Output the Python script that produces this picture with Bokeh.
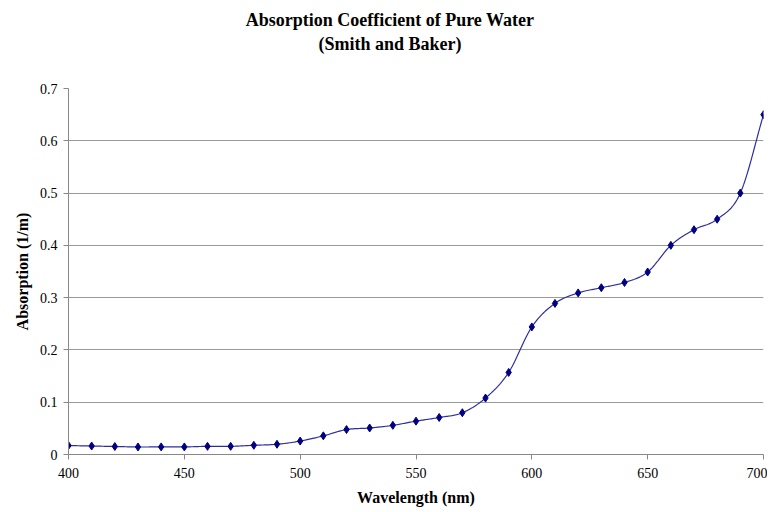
import numpy as np
from bokeh.plotting import figure
from bokeh.layouts import column
from bokeh.models import Label, Range1d, FixedTicker
from bokeh.embed import file_html
from bokeh.resources import INLINE

wavelength = [400, 410, 420, 430, 440, 450, 460, 470, 480, 490, 500, 510, 520, 530, 540,
              550, 560, 570, 580, 590, 600, 610, 620, 630, 640, 650, 660, 670, 680, 690, 700]
absorption = [0.0171, 0.0162, 0.0153, 0.0144, 0.0145, 0.0145, 0.0156, 0.0156, 0.0176, 0.0196,
              0.0257, 0.0357, 0.0477, 0.0507, 0.0558, 0.0638, 0.0708, 0.0799, 0.108, 0.157,
              0.244, 0.289, 0.309, 0.319, 0.329, 0.349, 0.400, 0.430, 0.450, 0.500, 0.650]
x_ticks = [400, 450, 500, 550, 600, 650, 700]
y_ticks = [0, 0.1, 0.2, 0.3, 0.4, 0.5, 0.6, 0.7]
title_1 = "Absorption Coefficient of Pure Water"
title_2 = "(Smith and Baker)"
x_label = "Wavelength (nm)"
y_label = "Absorption (1/m)"


def smooth(xs, ys, n=20):
    xs = np.asarray(xs, float)
    ys = np.asarray(ys, float)
    px = np.concatenate([[2 * xs[0] - xs[1]], xs, [2 * xs[-1] - xs[-2]]])
    py = np.concatenate([[2 * ys[0] - ys[1]], ys, [2 * ys[-1] - ys[-2]]])
    ox, oy = [], []
    t = np.linspace(0, 1, n, endpoint=False)
    for i in range(1, len(px) - 2):
        for arr, out in ((px, ox), (py, oy)):
            p0, p1, p2, p3 = arr[i - 1], arr[i], arr[i + 1], arr[i + 2]
            out.extend(0.5 * ((2 * p1) + (-p0 + p2) * t + (2 * p0 - 5 * p1 + 4 * p2 - p3) * t ** 2
                              + (-p0 + 3 * p1 - 3 * p2 + p3) * t ** 3))
    ox.append(xs[-1])
    oy.append(ys[-1])
    return ox, oy


serif = "Liberation Serif"
W = 767
TH = 56
LEFT = 68

# title strip (its frame is aligned with the chart frame by the column layout)
t = figure(width=W, height=TH, output_backend="svg", toolbar_location=None,
           x_range=Range1d(0, 1), y_range=Range1d(0, 1),
           x_axis_type=None, y_axis_type=None, min_border=0)
t.outline_line_color = None
t.xgrid.grid_line_color = None
t.ygrid.grid_line_color = None
for txt, yy in ((title_1, TH - 19), (title_2, TH - 43)):
    t.add_layout(Label(x=389.5 - LEFT, y=yy, x_units="screen", y_units="screen", text=txt,
                       text_align="center", text_baseline="middle", text_font=serif,
                       text_font_size="18px", text_font_style="bold", text_color="black"))

# main chart
p = figure(width=W, height=510 - TH, output_backend="svg", toolbar_location=None,
           x_range=Range1d(400, 700), y_range=Range1d(0, 0.7),
           min_border_left=LEFT, min_border_right=4, min_border_bottom=56,
           min_border_top=88 - TH)
p.outline_line_color = None

sx, sy = smooth(wavelength, absorption)
p.line(sx, sy, line_color="#2d2da0", line_width=1.2)
p.scatter(wavelength, absorption, marker="diamond", size=8, fill_color="#000080",
          line_color="#000080")

for ax in (p.xaxis[0], p.yaxis[0]):
    ax.axis_line_color = "#888888"
    ax.major_tick_line_color = "#888888"
    ax.major_tick_out = 5
    ax.major_tick_in = 0
    ax.minor_tick_line_color = None
    ax.major_label_text_font = serif
    ax.major_label_text_font_size = "14px"
    ax.major_label_text_color = "black"
    ax.axis_label_text_font = serif
    ax.axis_label_text_font_size = "16px"
    ax.axis_label_text_font_style = "bold"
    ax.axis_label_text_color = "black"

p.xaxis.ticker = FixedTicker(ticks=x_ticks)
p.yaxis.ticker = FixedTicker(ticks=y_ticks)
p.yaxis.major_label_overrides = {0: "0"}
p.xaxis.axis_label = x_label
p.yaxis.axis_label = y_label
p.xaxis.major_label_standoff = 8
p.yaxis.major_label_standoff = 6
p.xaxis.axis_label_standoff = 8
p.yaxis.axis_label_standoff = 6

p.xgrid.grid_line_color = None
p.ygrid.grid_line_color = "#999999"
p.ygrid.grid_line_width = 1

open("out.html", "w").write(file_html(column(t, p, spacing=0), INLINE))
